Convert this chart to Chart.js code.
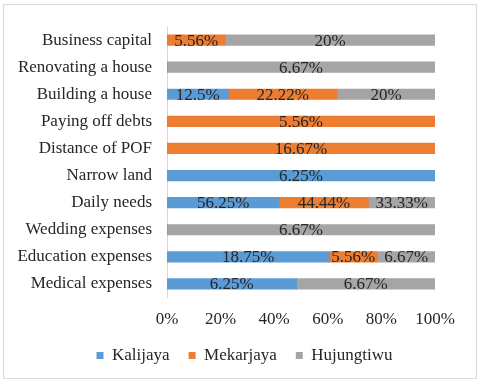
<!DOCTYPE html>
<html>
<head>
<meta charset="utf-8">
<script src="https://cdn.jsdelivr.net/npm/chart.js@4"></script>
<style>
  body { margin: 0; background: #fff; }
  #wrap { position: relative; width: 480px; height: 384px; }
  #frame { position: absolute; left: 3px; top: 4px; width: 472px; height: 373px; border: 1px solid #d9d9d9; }
  canvas { position: absolute; left: 0; top: 0; }
</style>
</head>
<body>
<div id="wrap">
  <div id="frame"></div>
  <canvas id="myChart" width="480" height="384"></canvas>
</div>
<script>
const reasons = ['Business capital', 'Renovating a house', 'Building a house', 'Paying off debts',
  'Distance of POF', 'Narrow land', 'Daily needs', 'Wedding expenses', 'Education expenses', 'Medical expenses'];
const kalijaya = [0, 0, 12.5, 0, 0, 6.25, 56.25, 0, 18.75, 6.25];
const mekarjaya = [5.56, 0, 22.22, 5.56, 16.67, 0, 44.44, 0, 5.56, 0];
const hujungtiwu = [20, 6.67, 20, 0, 0, 0, 33.33, 6.67, 6.67, 6.67];
const xTicks = [0, 20, 40, 60, 80, 100];

const serif = "'Liberation Serif', 'Times New Roman', serif";
const totals = reasons.map((r, i) => kalijaya[i] + mekarjaya[i] + hujungtiwu[i]);
const share = arr => arr.map((v, i) => v / totals[i] * 100);

// draws the original (un-normalised) value in the middle of each segment
const barLabels = {
  id: 'barLabels',
  afterDatasetsDraw(chart) {
    const ctx = chart.ctx;
    ctx.save();
    ctx.font = '17px ' + serif;
    ctx.fillStyle = '#262626';
    ctx.textAlign = 'center';
    ctx.textBaseline = 'middle';
    chart.data.datasets.forEach((ds, di) => {
      chart.getDatasetMeta(di).data.forEach((bar, i) => {
        const raw = ds.raw[i];
        if (!raw) return;
        ctx.fillText(raw + '%', (bar.x + bar.base) / 2, bar.y + 1);
      });
    });
    ctx.restore();
  }
};

// legend sits centred on the whole frame, not on the plot column
const shiftLegend = {
  id: 'shiftLegend',
  afterLayout(chart) {
    chart.legend.left += 25;
    chart.legend.right += 25;
  }
};

const ctx = document.getElementById('myChart').getContext('2d');
new Chart(ctx, {
  type: 'bar',
  data: {
    labels: reasons,
    datasets: [
      { label: 'Kalijaya', data: share(kalijaya), raw: kalijaya, backgroundColor: '#5B9BD5' },
      { label: 'Mekarjaya', data: share(mekarjaya), raw: mekarjaya, backgroundColor: '#ED7D31' },
      { label: 'Hujungtiwu', data: share(hujungtiwu), raw: hujungtiwu, backgroundColor: '#A5A5A5' }
    ]
  },
  options: {
    indexAxis: 'y',
    responsive: false,
    animation: false,
    barThickness: 10.5,
    layout: { padding: { left: 4, right: 45, top: 26.5, bottom: 10 } },
    plugins: {
      legend: {
        position: 'bottom',
        labels: {
          boxWidth: 7, boxHeight: 7, padding: 19,
          color: '#262626',
          font: { family: serif, size: 17 }
        }
      },
      tooltip: { enabled: false }
    },
    scales: {
      x: {
        stacked: true,
        min: 0, max: 100,
        afterBuildTicks: s => { s.ticks = xTicks.map(v => ({ value: v })); },
        afterFit: s => { s.height = 30.5; },
        grid: { display: false },
        border: { display: false },
        ticks: {
          padding: 4,
          color: '#262626',
          font: { family: serif, size: 17 },
          callback: v => v + '%'
        }
      },
      y: {
        stacked: true,
        afterFit: s => { s.width = 163; },
        grid: { display: false },
        border: { display: true, color: '#d9d9d9' },
        ticks: {
          padding: 7,
          color: '#262626',
          font: { family: serif, size: 17 }
        }
      }
    }
  },
  plugins: [barLabels, shiftLegend]
});
</script>
</body>
</html>
